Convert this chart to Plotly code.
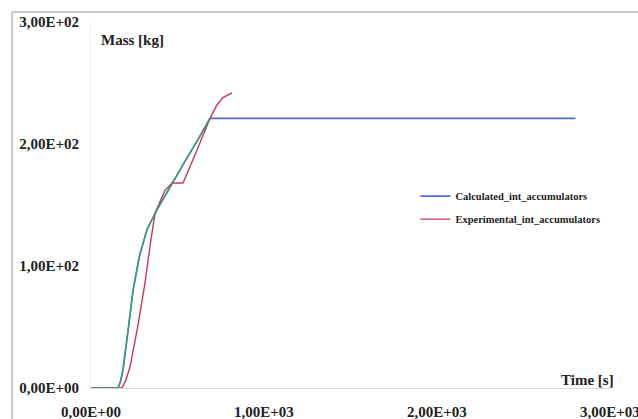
import plotly.graph_objects as go

# Calculated integral of accumulators (time [s], mass [kg])
calc_t = [0, 156, 170, 185, 215, 243, 280, 324, 381, 457, 540, 620, 688, 2800]
calc_m = [0, 0, 5, 15, 48, 80, 108, 130, 146, 165, 185, 204, 221, 221]
rise_end = 13  # the rising part of the calculated curve is drawn in green

# Experimental integral of accumulators
exp_t = [0, 179, 200, 225, 270, 312, 345, 370, 400, 428, 468, 532, 601, 688, 728, 763, 815]
exp_m = [0, 0, 6, 17, 50, 86, 120, 143, 153, 162, 168, 168, 191, 221, 232, 238, 242]

x_ticks = [0, 1000, 2000, 3000]
x_tick_text = ["0,00E+00", "1,00E+03", "2,00E+03", "3,00E+03"]
y_ticks = [0, 100, 200, 300]
y_tick_text = ["0,00E+00", "1,00E+02", "2,00E+02", "3,00E+02"]

serif = "Liberation Serif"

fig = go.Figure()
fig.add_trace(go.Scatter(x=calc_t, y=calc_m, mode="lines", name="Calculated_int_accumulators",
                         line=dict(color="#4F6FC0", width=1.6), legendgroup="a"))
fig.add_trace(go.Scatter(x=exp_t, y=exp_m, mode="lines", name="Experimental_int_accumulators",
                         line=dict(color="#C23A5E", width=1.4), legendgroup="b"))
fig.add_trace(go.Scatter(x=calc_t[:rise_end], y=calc_m[:rise_end], mode="lines",
                         showlegend=False, line=dict(color="#3A9A7C", width=1.4)))

fig.update_layout(
    width=638, height=419,
    margin=dict(l=91, r=28, t=22, b=31),
    paper_bgcolor="white", plot_bgcolor="white",
    showlegend=True,
    legend=dict(x=0.625, y=0.564, xanchor="left", yanchor="top",
                font=dict(family=serif, size=10.5, color="#222", weight="bold"),
                bgcolor="rgba(0,0,0,0)", itemwidth=30, tracegroupgap=4),
    xaxis=dict(range=[0, 3000.5], tickvals=x_ticks, ticktext=x_tick_text,
               showgrid=False, zeroline=False, showline=True, linecolor="#d8d8d8", linewidth=1,
               ticks="", ticklabelstandoff=10, ticklabeloverflow="allow", automargin=False,
               tickfont=dict(family=serif, size=15, color="#222", weight="bold")),
    yaxis=dict(range=[0, 300], tickvals=y_ticks, ticktext=y_tick_text,
               showgrid=False, zeroline=False, showline=True, linecolor="#ececec", linewidth=1,
               ticks="", ticklabelstandoff=8, ticklabeloverflow="allow", automargin=False,
               tickfont=dict(family=serif, size=15, color="#222", weight="bold")),
    annotations=[
        dict(text="Mass [kg]", xref="paper", yref="paper", x=0.079, y=0.951,
             xanchor="center", yanchor="middle", showarrow=False,
             font=dict(family=serif, size=15, color="#222", weight="bold")),
        dict(text="Time [s]", xref="paper", yref="paper", x=0.957, y=0.022,
             xanchor="center", yanchor="middle", showarrow=False,
             font=dict(family=serif, size=15, color="#222", weight="bold")),
    ],
    shapes=[
        dict(type="line", xref="paper", yref="paper", x0=-0.152, x1=-0.152, y0=1.027, y1=-0.2,
             line=dict(color="#c8c8c8", width=2)),
        dict(type="line", xref="paper", yref="paper", x0=-0.152, x1=1.2, y0=1.027, y1=1.027,
             line=dict(color="#c8c8c8", width=2)),
    ],
)

fig.write_html("out.html")
